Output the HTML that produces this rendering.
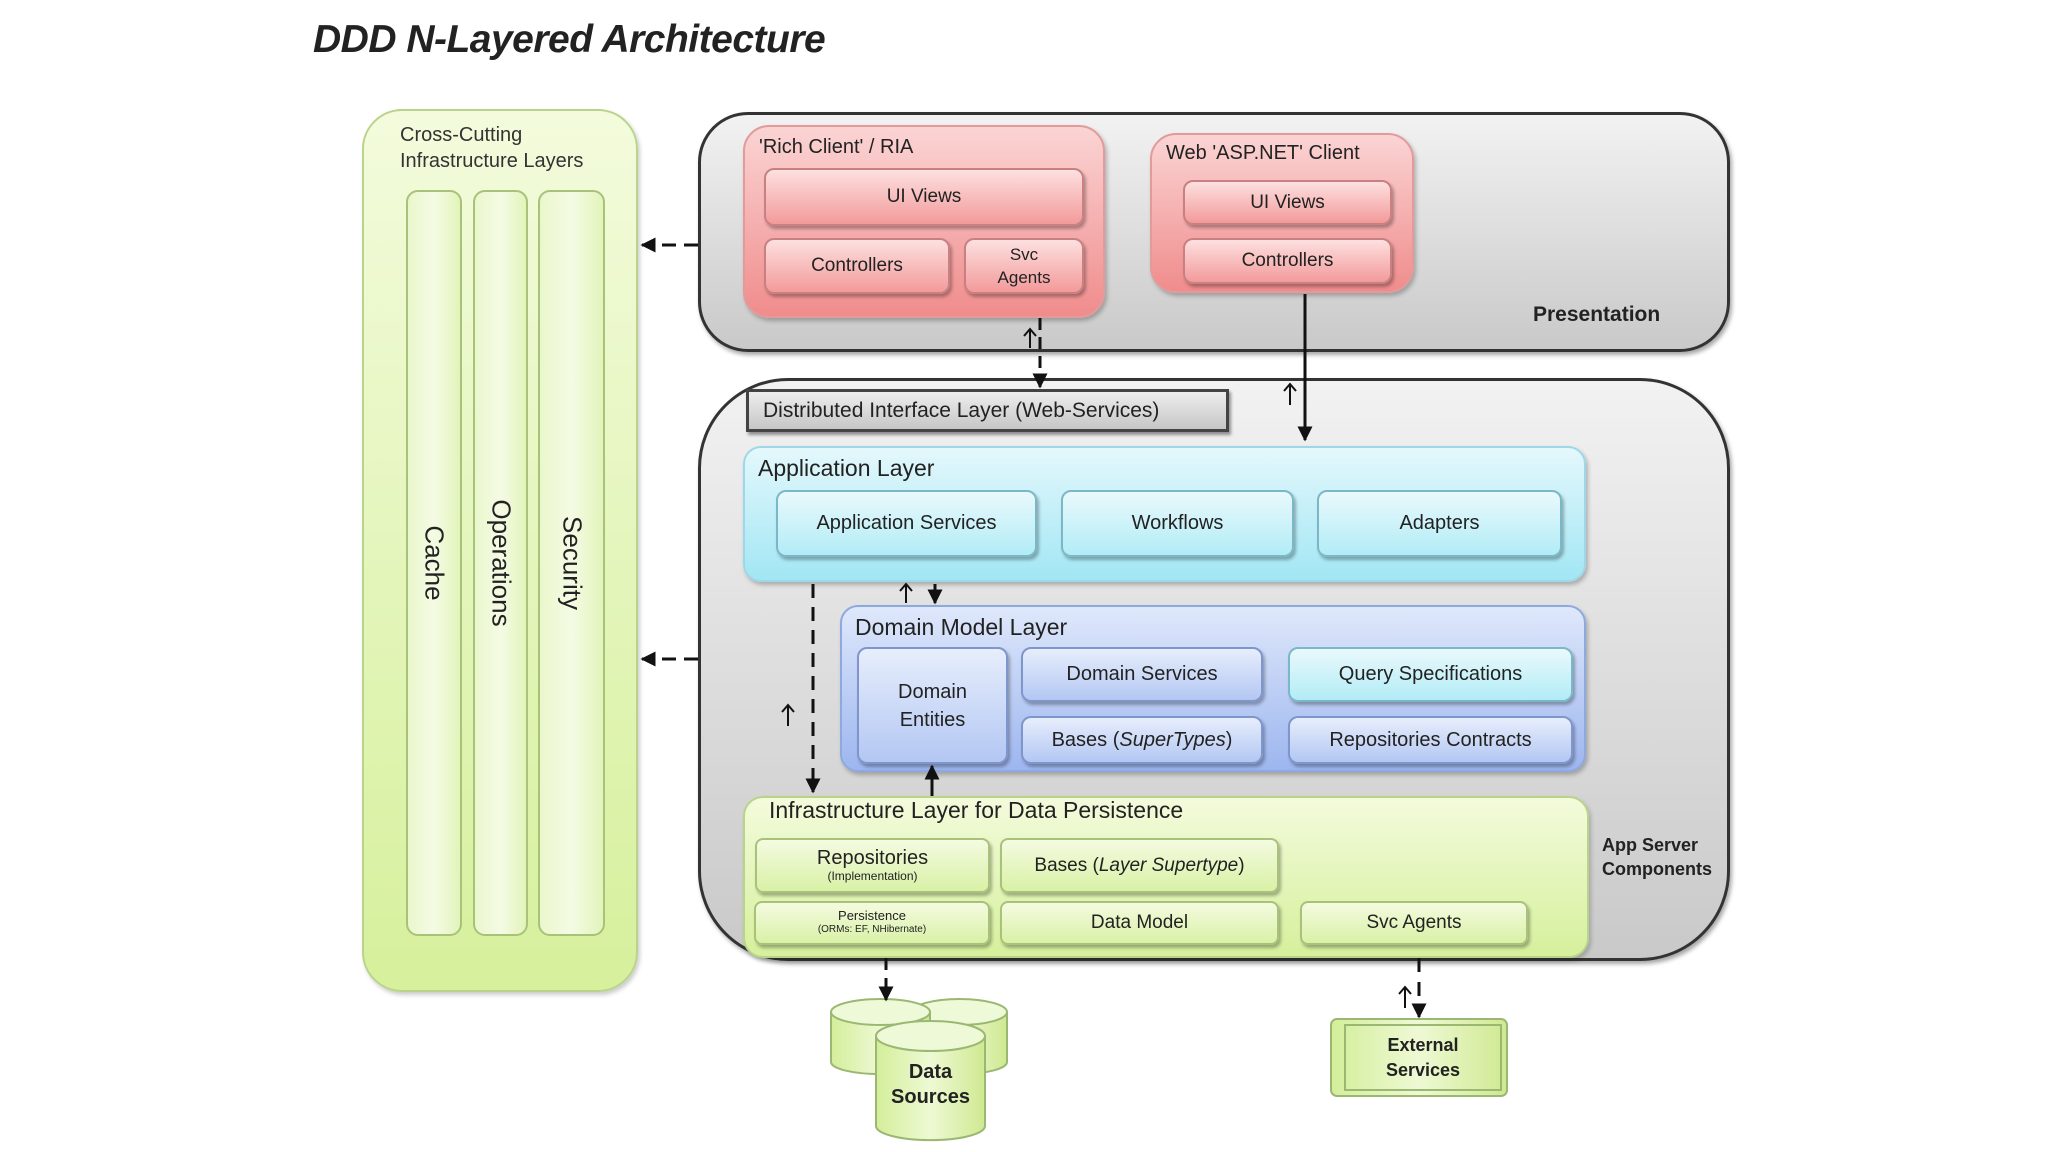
<!DOCTYPE html>
<html><head><meta charset="utf-8">
<style>
body{margin:0;width:2048px;height:1152px;background:#fff;position:relative;overflow:hidden;font-family:"Liberation Sans",sans-serif;color:#222}
.a{position:absolute;box-sizing:border-box}
.t{position:absolute;white-space:nowrap}
.gray{background:linear-gradient(180deg,#f2f2f2,#c9c9c9);border:3px solid #333;box-shadow:2px 3px 4px rgba(0,0,0,.35)}
.pink{background:linear-gradient(180deg,#fbd4d4,#f08c8c);border:2px solid #e29a9a;box-shadow:2px 3px 4px rgba(0,0,0,.25)}
.pk{background:linear-gradient(180deg,#fde0e0,#f39a9a);border:2px solid #c98080;border-radius:10px;box-shadow:2px 3px 3px rgba(0,0,0,.3);display:flex;align-items:center;justify-content:center;text-align:center;font-size:19px}
.cyan{background:linear-gradient(180deg,#e4f8fc,#a2e6f4);border:2px solid #9ed8e8;border-radius:18px;box-shadow:2px 3px 4px rgba(0,0,0,.25)}
.cy{background:linear-gradient(180deg,#e9f9fc,#b2ecf6);border:2px solid #7ab8c8;border-radius:10px;box-shadow:2px 3px 3px rgba(0,0,0,.3);display:flex;align-items:center;justify-content:center;text-align:center;font-size:20px}
.blue{background:linear-gradient(180deg,#dfe8fb,#9db6ef);border:2px solid #8ea8e0;border-radius:18px;box-shadow:2px 3px 4px rgba(0,0,0,.25)}
.bl{background:linear-gradient(180deg,#e7eefc,#b3c7f3);border:2px solid #7e96cc;border-radius:10px;box-shadow:2px 3px 3px rgba(0,0,0,.3);display:flex;align-items:center;justify-content:center;text-align:center;font-size:20px}
.green{background:linear-gradient(180deg,#f3fbdc,#d6f09c);border:2px solid #b9d48a;box-shadow:2px 3px 4px rgba(0,0,0,.2)}
.gr{background:linear-gradient(180deg,#f4fbe0,#d9f1a6);border:2px solid #a9c27a;border-radius:8px;box-shadow:2px 3px 3px rgba(0,0,0,.3);display:flex;align-items:center;justify-content:center;text-align:center;font-size:19px;flex-direction:column}
.col{background:linear-gradient(90deg,#eaf7cc,#f4fbe4,#e2f4bb);border:2px solid #a9c27a;border-radius:12px}
.rot{position:absolute;transform:rotate(90deg);font-size:26px;white-space:nowrap;left:50%;top:50%;translate:-50% -50%}
</style></head><body>
<div class="t" style="left:313px;top:18px;font-size:39px;font-weight:bold;font-style:italic;color:#222;letter-spacing:-0.5px">DDD N-Layered Architecture</div>

<div class="a green" style="left:362px;top:109px;width:276px;height:883px;border-radius:40px"></div>
<div class="t" style="left:400px;top:122px;font-size:20px;line-height:26px;color:#333">Cross-Cutting<br>Infrastructure Layers</div>
<div class="a col" style="left:406px;top:190px;width:56px;height:746px"><div class="rot">Cache</div></div>
<div class="a col" style="left:473px;top:190px;width:55px;height:746px"><div class="rot">Operations</div></div>
<div class="a col" style="left:538px;top:190px;width:67px;height:746px"><div class="rot">Security</div></div>

<div class="a gray" style="left:698px;top:112px;width:1032px;height:240px;border-radius:50px"></div>
<div class="t" style="left:1533px;top:303px;font-size:21px;font-weight:bold">Presentation</div>
<div class="a pink" style="left:743px;top:125px;width:362px;height:193px;border-radius:26px"></div>
<div class="t" style="left:759px;top:136px;font-size:20px">'Rich Client' / RIA</div>
<div class="a pk" style="left:764px;top:168px;width:320px;height:58px">UI Views</div>
<div class="a pk" style="left:764px;top:238px;width:186px;height:56px">Controllers</div>
<div class="a pk" style="left:964px;top:238px;width:120px;height:56px;font-size:17px;line-height:23px">Svc<br>Agents</div>
<div class="a pink" style="left:1150px;top:133px;width:264px;height:160px;border-radius:26px"></div>
<div class="t" style="left:1166px;top:142px;font-size:20px">Web 'ASP.NET' Client</div>
<div class="a pk" style="left:1183px;top:180px;width:209px;height:45px">UI Views</div>
<div class="a pk" style="left:1183px;top:238px;width:209px;height:46px">Controllers</div>

<div class="a gray" style="left:698px;top:378px;width:1032px;height:583px;border-radius:90px"></div>
<div class="t" style="left:1602px;top:833px;font-size:18px;line-height:24px;font-weight:bold">App Server<br>Components</div>
<div class="a" style="left:746px;top:389px;width:483px;height:43px;background:linear-gradient(180deg,#eee,#c6c6c6);border:3px solid #444;box-shadow:2px 3px 3px rgba(0,0,0,.4);font-size:21px;display:flex;align-items:center;padding-left:14px">Distributed Interface Layer (Web-Services)</div>

<div class="a cyan" style="left:743px;top:446px;width:843px;height:136px"></div>
<div class="t" style="left:758px;top:455px;font-size:23px">Application Layer</div>
<div class="a cy" style="left:776px;top:490px;width:261px;height:67px">Application Services</div>
<div class="a cy" style="left:1061px;top:490px;width:233px;height:67px">Workflows</div>
<div class="a cy" style="left:1317px;top:490px;width:245px;height:67px">Adapters</div>

<div class="a blue" style="left:840px;top:605px;width:746px;height:167px"></div>
<div class="t" style="left:855px;top:614px;font-size:23px">Domain Model Layer</div>
<div class="a bl" style="left:857px;top:647px;width:151px;height:117px;line-height:28px">Domain<br>Entities</div>
<div class="a bl" style="left:1021px;top:647px;width:242px;height:55px">Domain Services</div>
<div class="a bl" style="left:1021px;top:716px;width:242px;height:48px"><span>Bases (<i>SuperTypes</i>)</span></div>
<div class="a cy" style="left:1288px;top:647px;width:285px;height:55px">Query Specifications</div>
<div class="a bl" style="left:1288px;top:716px;width:285px;height:48px">Repositories Contracts</div>

<div class="a green" style="left:743px;top:796px;width:846px;height:162px;border-radius:20px"></div>
<div class="t" style="left:769px;top:797px;font-size:23px">Infrastructure Layer for Data Persistence</div>
<div class="a gr" style="left:755px;top:838px;width:235px;height:55px;font-size:20px;line-height:20px">Repositories<span style="font-size:12px;line-height:16px">(Implementation)</span></div>
<div class="a gr" style="left:1000px;top:838px;width:279px;height:55px"><span>Bases (<i>Layer Supertype</i>)</span></div>
<div class="a gr" style="left:754px;top:901px;width:236px;height:44px;font-size:13px;line-height:14px">Persistence<span style="font-size:10px">(ORMs: EF, NHibernate)</span></div>
<div class="a gr" style="left:1000px;top:901px;width:279px;height:44px">Data Model</div>
<div class="a gr" style="left:1300px;top:901px;width:228px;height:44px">Svc Agents</div>

<svg class="a" style="left:0;top:0" width="2048" height="1152">
<defs>
<linearGradient id="cg" x1="0" x2="1"><stop offset="0" stop-color="#d3ee9a"/><stop offset=".5" stop-color="#eef9d4"/><stop offset="1" stop-color="#cfe991"/></linearGradient>
<marker id="ah" viewBox="0 0 10 10" refX="9" refY="5" markerWidth="5" markerHeight="5" orient="auto"><path d="M0,0L10,5L0,10z" fill="#111"/></marker>
</defs>
<g stroke="#9bb873" stroke-width="2" fill="url(#cg)">
<path d="M912,1012 v50 a47,12 0 0 0 95,0 v-50"/><ellipse cx="959.5" cy="1012" rx="47.5" ry="13" fill="#eef9d8"/>
<path d="M831,1012 v50 a49,12 0 0 0 99,0 v-50"/><ellipse cx="880.5" cy="1012" rx="49.5" ry="13" fill="#eef9d8"/>
<path d="M876,1036 v90 a54,14 0 0 0 109,0 v-90"/><ellipse cx="930.5" cy="1036" rx="54.5" ry="15" fill="#eef9d8"/>
</g>
<rect x="1331" y="1019" width="176" height="77" rx="6" fill="url(#cg)" stroke="#9bb873" stroke-width="2"/>
<rect x="1345" y="1025" width="156" height="65" fill="none" stroke="#9bb873" stroke-width="2"/>
<g stroke="#111" stroke-width="3" fill="none">
<line x1="698" y1="245" x2="642" y2="245" stroke-dasharray="14,8" marker-end="url(#ah)"/>
<line x1="698" y1="659" x2="642" y2="659" stroke-dasharray="14,8" marker-end="url(#ah)"/>
<line x1="1040" y1="318" x2="1040" y2="387" stroke-dasharray="12,7" marker-end="url(#ah)"/>
<line x1="1305" y1="294" x2="1305" y2="440" marker-end="url(#ah)"/>
<line x1="935" y1="584" x2="935" y2="603" marker-end="url(#ah)"/>
<line x1="813" y1="584" x2="813" y2="792" stroke-dasharray="14,9" marker-end="url(#ah)"/>
<line x1="932" y1="796" x2="932" y2="766" marker-end="url(#ah)"/>
<line x1="886" y1="958" x2="886" y2="1000" stroke-dasharray="12,8" marker-end="url(#ah)"/>
<line x1="1419" y1="958" x2="1419" y2="1017" stroke-dasharray="14,10" marker-end="url(#ah)"/>
</g>
<g stroke="#111" stroke-width="2" fill="none">
<path d="M1030,348 v-18 M1024,336 l6,-7 l6,7"/>
<path d="M1290,405 v-20 M1284,391 l6,-7 l6,7"/>
<path d="M906,603 v-18 M900,591 l6,-7 l6,7"/>
<path d="M788,726 v-20 M782,712 l6,-7 l6,7"/>
<path d="M1405,1008 v-20 M1399,994 l6,-7 l6,7"/>
</g>
</svg>
<div class="t" style="left:876px;top:1060px;width:109px;text-align:center;font-size:20px;line-height:25px;font-weight:bold">Data<br>Sources</div>
<div class="t" style="left:1345px;top:1033px;width:156px;text-align:center;font-size:18px;line-height:25px;font-weight:bold">External<br>Services</div>
</body></html>
